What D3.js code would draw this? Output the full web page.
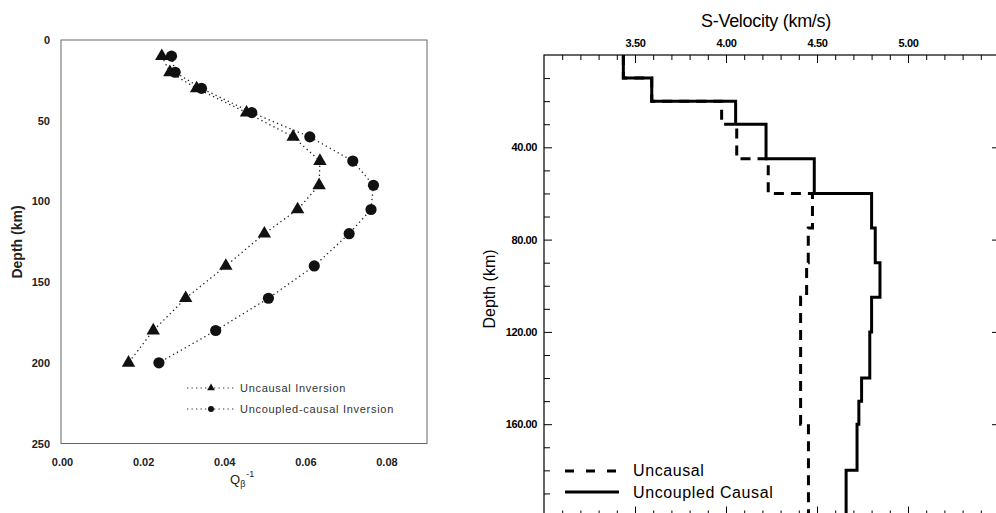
<!DOCTYPE html>
<html>
<head>
<meta charset="utf-8">
<script src="https://cdn.jsdelivr.net/npm/d3@7"></script>
<style>
body { margin: 0; background: #fff; }
svg { display: block; font-family: "Liberation Sans", Arial, sans-serif; }
</style>
</head>
<body>
<svg id="chart" width="996" height="513"></svg>
<script>
// left panel: Q_beta^-1 against depth
const q_depth = [10, 20, 30, 45, 60, 75, 90, 105, 120, 140, 160, 180, 200];
const q_uncausal = [0.0246, 0.0266, 0.0332, 0.0455, 0.0570, 0.0636, 0.0634, 0.0581, 0.0499, 0.0404, 0.0305, 0.0225, 0.0164];
const q_causal = [0.0270, 0.0279, 0.0344, 0.0468, 0.0611, 0.0717, 0.0768, 0.0762, 0.0708, 0.0622, 0.0509, 0.0379, 0.0239];
const q_xticks = [0, 0.02, 0.04, 0.06, 0.08];
const q_yticks = [0, 50, 100, 150, 200, 250];

// right panel: layered S-velocity model
const layer_top = [0, 10, 20, 30, 45, 60, 75, 90, 105, 120, 140, 150, 160, 180];
const layer_bottom = [10, 20, 30, 45, 60, 75, 90, 105, 120, 140, 150, 160, 180, 200];
const vs_uncausal = [3.436, 3.592, 3.976, 4.059, 4.232, 4.475, 4.452, 4.443, 4.410, 4.410, 4.410, 4.410, 4.453, 4.453];
const vs_causal = [3.436, 3.592, 4.053, 4.220, 4.485, 4.800, 4.820, 4.846, 4.800, 4.790, 4.745, 4.730, 4.720, 4.660];
const vs_xticks = [3.5, 4.0, 4.5, 5.0];
const vs_yticks = [40, 80, 120, 160];

class QPanel {
    constructor(parent) {
        this.parent = parent;
        let obj = this;

        this.g = this.parent.append('g').attr('id', 'qpanel');
        this.x = d3.scaleLinear().domain([0, 0.09]).range([62, 427]);
        this.y = d3.scaleLinear().domain([0, 250]).range([40, 443.5]);

        this.g.append('rect')
            .attr('x', 61).attr('y', 40)
            .attr('width', 366).attr('height', 403.5)
            .attr('fill', 'none').attr('stroke', '#666').attr('stroke-width', 1);

        let ya = this.g.append('g')
            .attr('transform', 'translate(61,0)')
            .call(d3.axisLeft(this.y).tickValues(q_yticks).tickSize(0).tickPadding(11));
        let xa = this.g.append('g')
            .attr('transform', 'translate(0,443.5)')
            .call(d3.axisBottom(this.x).tickValues(q_xticks).tickSize(0).tickPadding(15).tickFormat(d3.format('.2f')));
        [ya, xa].forEach(function(a) {
            a.select('.domain').remove();
            a.selectAll('text').attr('font-size', 11).attr('font-weight', 'bold')
                .attr('font-family', '"Liberation Sans", Arial, sans-serif').attr('fill', '#222');
        });

        this.g.append('text')
            .attr('transform', 'translate(22,242) rotate(-90)')
            .attr('text-anchor', 'middle').attr('font-size', 14).attr('font-weight', 'bold').attr('fill', '#222')
            .text('Depth (km)');

        let ql = this.g.append('text').attr('x', 230).attr('y', 484).attr('font-size', 13).attr('fill', '#222');
        ql.append('tspan').text('Q');
        ql.append('tspan').attr('font-size', 9).attr('dy', 3).text('\u03b2');
        ql.append('tspan').attr('font-size', 9).attr('dy', -10).attr('dx', 1).text('-1');

        this.series(q_uncausal, 'triangle');
        this.series(q_causal, 'circle');
        this.legend();
    }

    series(values, kind) {
        let obj = this;
        let pts = q_depth.map(function(d, i) { return [obj.x(values[i]), obj.y(d)]; });
        this.g.append('path')
            .attr('d', d3.line()(pts))
            .attr('fill', 'none').attr('stroke', '#222').attr('stroke-width', 1.3)
            .attr('stroke-dasharray', '1.3,3.2');
        let sym = kind == 'triangle' ? d3.symbol(d3.symbolTriangle, 78) : d3.symbol(d3.symbolCircle, 98);
        this.g.selectAll('.m-' + kind).data(pts).enter()
            .append('path')
            .attr('class', 'm-' + kind)
            .attr('transform', function(p) { return 'translate(' + p[0] + ',' + p[1] + ')'; })
            .attr('d', sym)
            .attr('fill', '#111');
    }

    legend() {
        let rows = [
            { label: 'Uncausal Inversion', sym: d3.symbol(d3.symbolTriangle, 26), y: 388 },
            { label: 'Uncoupled-causal Inversion', sym: d3.symbol(d3.symbolCircle, 28), y: 409 }
        ];
        let lg = this.g.append('g').attr('class', 'legend');
        rows.forEach(function(r) {
            lg.append('line').attr('x1', 187).attr('x2', 234).attr('y1', r.y).attr('y2', r.y)
                .attr('stroke', '#333').attr('stroke-width', 1.2).attr('stroke-dasharray', '1.3,3.2');
            lg.append('path').attr('transform', 'translate(211,' + r.y + ')').attr('d', r.sym).attr('fill', '#111');
            lg.append('text').attr('x', 240).attr('y', r.y + 4).attr('font-size', 11)
                .attr('letter-spacing', 0.7).attr('fill', '#333').text(r.label);
        });
    }
}

class VsPanel {
    constructor(parent) {
        this.parent = parent;
        let obj = this;

        this.g = this.parent.append('g').attr('id', 'vspanel');
        this.x = d3.scaleLinear().domain([3.0, 5.5]).range([544, 999]);
        this.y = d3.scaleLinear().domain([0, 200]).range([55, 516.5]);

        this.g.append('rect')
            .attr('x', 544).attr('y', 55)
            .attr('width', 455).attr('height', 461.5)
            .attr('fill', 'none').attr('stroke', '#000').attr('stroke-width', 1.2);

        let minorV = d3.range(3.1, 5.45, 0.1).filter(function(v) { return Math.abs(v * 2 - Math.round(v * 2)) > 0.01; });
        let minorD = d3.range(10, 200, 10).filter(function(d) { return d % 40 != 0; });

        let top = this.g.append('g').attr('transform', 'translate(0,55)');
        top.call(d3.axisTop(this.x).tickValues(vs_xticks).tickSize(-8).tickPadding(8).tickFormat(d3.format('.2f')));
        this.g.append('g').attr('transform', 'translate(0,55)')
            .call(d3.axisTop(this.x).tickValues(minorV).tickSize(-5).tickFormat(''));
        this.g.append('g').attr('transform', 'translate(0,516.5)')
            .call(d3.axisBottom(this.x).tickValues(vs_xticks).tickSize(-10).tickFormat(''));
        this.g.append('g').attr('transform', 'translate(0,516.5)')
            .call(d3.axisBottom(this.x).tickValues(minorV).tickSize(-6).tickFormat(''));

        let left = this.g.append('g').attr('transform', 'translate(544,0)');
        left.call(d3.axisLeft(this.y).tickValues(vs_yticks).tickSize(-8).tickPadding(7).tickFormat(d3.format('.2f')));
        this.g.append('g').attr('transform', 'translate(544,0)')
            .call(d3.axisLeft(this.y).tickValues(minorD).tickSize(-6).tickFormat(''));
        this.g.append('g').attr('transform', 'translate(999,0)')
            .call(d3.axisRight(this.y).tickValues(vs_yticks).tickSize(-7).tickFormat(''));

        this.g.selectAll('.domain').remove();
        this.g.selectAll('.tick line').attr('stroke', '#000').attr('stroke-width', 1);
        this.g.selectAll('.tick text')
            .attr('font-size', 11).attr('font-weight', 'bold').attr('letter-spacing', -0.4)
            .attr('font-family', '"Liberation Sans", Arial, sans-serif').attr('fill', '#000');

        this.g.append('text')
            .attr('x', 766).attr('y', 27).attr('text-anchor', 'middle')
            .attr('font-size', 18).attr('letter-spacing', -0.3).text('S-Velocity (km/s)');
        this.g.append('text')
            .attr('transform', 'translate(495,289) rotate(-90)')
            .attr('text-anchor', 'middle').attr('font-size', 16).text('Depth (km)');

        this.profile(vs_uncausal, '10,7');
        this.profile(vs_causal, null);
        this.legend();
    }

    profile(values, dash) {
        let obj = this;
        let pts = [];
        values.forEach(function(v, i) {
            pts.push([obj.x(v), obj.y(layer_top[i])]);
            pts.push([obj.x(v), obj.y(layer_bottom[i])]);
        });
        this.g.append('path')
            .attr('d', d3.line()(pts))
            .attr('fill', 'none').attr('stroke', '#000').attr('stroke-width', 3)
            .attr('stroke-dasharray', dash);
    }

    legend() {
        let lg = this.g.append('g').attr('class', 'legend');
        lg.append('line').attr('x1', 565).attr('x2', 617).attr('y1', 471).attr('y2', 471)
            .attr('stroke', '#000').attr('stroke-width', 3).attr('stroke-dasharray', '9,12');
        lg.append('line').attr('x1', 565).attr('x2', 619).attr('y1', 492).attr('y2', 492)
            .attr('stroke', '#000').attr('stroke-width', 3);
        lg.append('text').attr('x', 633).attr('y', 476).attr('font-size', 16).attr('letter-spacing', 0.6).text('Uncausal');
        lg.append('text').attr('x', 633).attr('y', 498).attr('font-size', 16).attr('letter-spacing', 0.6).text('Uncoupled Causal');
    }
}

let svg = d3.select('#chart');
svg.append('rect').attr('width', 996).attr('height', 513).attr('fill', '#fff');
let qpanel = new QPanel(svg);
let vspanel = new VsPanel(svg);
</script>
</body>
</html>
